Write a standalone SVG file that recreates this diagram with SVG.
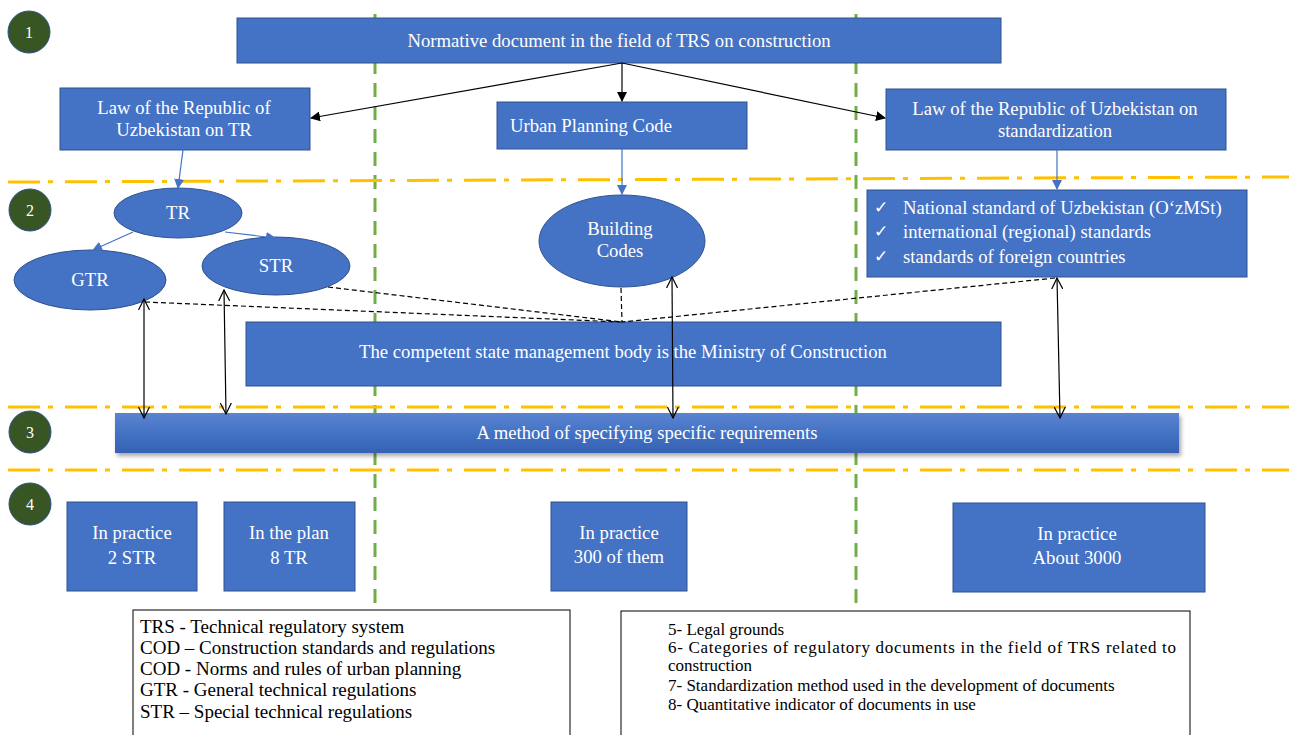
<svg xmlns="http://www.w3.org/2000/svg" width="1289" height="735" viewBox="0 0 1289 735">
<style>
.box{fill:#4472C4;stroke:#2F528F;stroke-width:1}
.t{font-family:"Liberation Serif","Times New Roman",serif;fill:#fff;font-size:18.7px}
.n{font-family:"Liberation Serif","Times New Roman",serif;fill:#fff;font-size:16px;text-anchor:middle}
.c{text-anchor:middle}
.num{fill:#375623;stroke:#2F528F;stroke-width:1}
.orange{stroke:#FFC000;stroke-width:3;stroke-dasharray:32 8 5 12;fill:none}
.green{stroke:#70AD47;stroke-width:3;stroke-dasharray:14 9;fill:none}
.blk{stroke:#000;stroke-width:1.2;fill:none}
.blu{stroke:#4472C4;stroke-width:1.2;fill:none}
.dsh{stroke:#000;stroke-width:1.2;stroke-dasharray:5 3;fill:none}
.leg{font-family:"Liberation Serif","Times New Roman",serif;fill:#000}
.ck{font-family:"DejaVu Sans",sans-serif;font-size:17px;fill:#fff}
</style>
<defs>
<marker id="ah" markerWidth="10" markerHeight="10" refX="9" refY="5" orient="auto" markerUnits="userSpaceOnUse"><path d="M0,0 L10,5 L0,10 z" fill="#000"/></marker>
<marker id="ab" markerWidth="10" markerHeight="10" refX="9" refY="5" orient="auto" markerUnits="userSpaceOnUse"><path d="M0,0 L10,5 L0,10 z" fill="#4472C4"/></marker>
<marker id="ao" markerWidth="12" markerHeight="12" refX="11" refY="6" orient="auto-start-reverse" markerUnits="userSpaceOnUse"><path d="M0,0.5 L11,6 L0,11.5" fill="none" stroke="#000" stroke-width="1.2"/></marker>
<linearGradient id="mg" x1="0" y1="0" x2="0" y2="1"><stop offset="0" stop-color="#5A84D0"/><stop offset="0.5" stop-color="#4472C4"/><stop offset="1" stop-color="#3561B3"/></linearGradient>
<filter id="sh" x="-5%" y="-30%" width="110%" height="170%"><feDropShadow dx="2" dy="3" stdDeviation="2" flood-color="#000" flood-opacity="0.35"/></filter>
</defs>
<rect width="1289" height="735" fill="#fff"/>

<g id="guides">
<line class="green" x1="375" y1="14" x2="375" y2="612"/>
<line class="green" x1="856" y1="14" x2="856" y2="612"/>
<line class="orange" x1="8" y1="182" x2="1289" y2="177"/>
<line class="orange" x1="8" y1="407" x2="1289" y2="407"/>
<line class="orange" x1="8" y1="470" x2="1289" y2="470"/>
</g>

<g id="step-markers">
<g id="m1"><circle class="num" cx="29" cy="32" r="21"/><text class="n" x="29" y="38">1</text></g>
<g id="m2"><circle class="num" cx="30" cy="210" r="21"/><text class="n" x="30" y="216">2</text></g>
<g id="m3"><circle class="num" cx="30" cy="432" r="21"/><text class="n" x="30" y="438">3</text></g>
<g id="m4"><circle class="num" cx="30" cy="504" r="21"/><text class="n" x="30" y="510">4</text></g>
</g>

<g id="n-normative"><rect class="box" x="237" y="18" width="764" height="45"/><text class="t c" x="619" y="47">Normative document in the field of TRS on construction</text></g>
<g id="n-lawtr"><rect class="box" x="60" y="88" width="250" height="62"/><text class="t c" x="184" y="114">Law of the Republic of</text><text class="t c" x="184" y="136">Uzbekistan on TR</text></g>
<g id="n-urban"><rect class="box" x="497" y="102" width="250" height="47"/><text class="t" x="510" y="132">Urban Planning Code</text></g>
<g id="n-lawstd"><rect class="box" x="886" y="89" width="340" height="61"/><text class="t c" x="1055" y="115">Law of the Republic of Uzbekistan on</text><text class="t c" x="1055" y="137">standardization</text></g>
<g id="n-standards"><rect class="box" x="867" y="190" width="380" height="87"/>
<text class="ck" x="874" y="213">✓</text><text class="t" x="903" y="214">National standard of Uzbekistan (O‘zMSt)</text>
<text class="ck" x="874" y="237">✓</text><text class="t" x="903" y="238">international (regional) standards</text>
<text class="ck" x="874" y="262">✓</text><text class="t" x="903" y="263">standards of foreign countries</text></g>

<g id="n-tr"><ellipse class="box" cx="178" cy="213" rx="64" ry="25"/><text class="t c" x="178" y="219">TR</text></g>
<g id="n-gtr"><ellipse class="box" cx="90" cy="280" rx="76" ry="30"/><text class="t c" x="90" y="286">GTR</text></g>
<g id="n-str"><ellipse class="box" cx="276" cy="266" rx="74" ry="29"/><text class="t c" x="276" y="272">STR</text></g>
<g id="n-building"><ellipse class="box" cx="622" cy="241" rx="83" ry="46"/><text class="t c" x="620" y="235">Building</text><text class="t c" x="620" y="257">Codes</text></g>

<g id="n-ministry"><rect class="box" x="246" y="322" width="755" height="64"/><text class="t c" x="623" y="358">The competent state management body is the Ministry of Construction</text></g>
<g id="n-method"><rect x="115" y="413" width="1064" height="40" fill="url(#mg)" filter="url(#sh)"/><text class="t c" x="647" y="439">A method of specifying specific requirements</text></g>

<g id="n-q1"><rect class="box" x="67" y="502" width="130" height="89"/><text class="t c" x="132" y="539">In practice</text><text class="t c" x="132" y="564">2 STR</text></g>
<g id="n-q2"><rect class="box" x="224" y="502" width="131" height="89"/><text class="t c" x="289" y="539">In the plan</text><text class="t c" x="289" y="564">8 TR</text></g>
<g id="n-q3"><rect class="box" x="551" y="502" width="136" height="89"/><text class="t c" x="619" y="539">In practice</text><text class="t c" x="619" y="563">300 of them</text></g>
<g id="n-q4"><rect class="box" x="953" y="503" width="252" height="89"/><text class="t c" x="1077" y="540">In practice</text><text class="t c" x="1077" y="564">About 3000</text></g>

<g id="legend1"><rect x="133" y="610" width="437" height="130" fill="#fff" stroke="#000" stroke-width="1"/>
<text class="leg" font-size="19" x="140" y="633">TRS - Technical regulatory system</text>
<text class="leg" font-size="19" x="140" y="654">COD – Construction standards and regulations</text>
<text class="leg" font-size="19" x="140" y="675">COD - Norms and rules of urban planning</text>
<text class="leg" font-size="19" x="140" y="696">GTR - General technical regulations</text>
<text class="leg" font-size="19" x="140" y="718">STR – Special technical regulations</text></g>
<g id="legend2"><rect x="621" y="611" width="569" height="130" fill="#fff" stroke="#000" stroke-width="1"/>
<text class="leg" font-size="17" x="668" y="635">5- Legal grounds</text>
<text class="leg" font-size="17" x="668" y="653" textLength="508" lengthAdjust="spacing">6- Categories of regulatory documents in the field of TRS related to</text>
<text class="leg" font-size="17" x="668" y="671">construction</text>
<text class="leg" font-size="17" x="668" y="691">7- Standardization method used in the development of documents</text>
<text class="leg" font-size="17" x="668" y="710">8- Quantitative indicator of documents in use</text></g>

<g id="connectors">
<line class="blk" x1="622" y1="63" x2="311" y2="118" marker-end="url(#ah)"/>
<line class="blk" x1="622" y1="63" x2="622" y2="101" marker-end="url(#ah)"/>
<line class="blk" x1="622" y1="63" x2="885" y2="118" marker-end="url(#ah)"/>
<line class="blu" x1="183" y1="150" x2="178" y2="188" marker-end="url(#ab)"/>
<line class="blu" x1="622" y1="149" x2="622" y2="194" marker-end="url(#ab)"/>
<line class="blu" x1="1057" y1="150" x2="1057" y2="189" marker-end="url(#ab)"/>
<line class="blu" x1="133" y1="232" x2="93" y2="250" marker-end="url(#ab)"/>
<line class="blu" x1="225" y1="232" x2="275" y2="238" marker-end="url(#ab)"/>
<line class="dsh" x1="145" y1="302" x2="622" y2="322"/>
<line class="dsh" x1="328" y1="287" x2="622" y2="322"/>
<line class="dsh" x1="621" y1="288" x2="622" y2="322"/>
<line class="dsh" x1="1055" y1="278" x2="622" y2="322"/>
<line class="blk" x1="144" y1="299" x2="144" y2="418" marker-start="url(#ao)" marker-end="url(#ao)"/>
<line class="blk" x1="224" y1="290" x2="226" y2="414" marker-start="url(#ao)" marker-end="url(#ao)"/>
<line class="blk" x1="672" y1="277" x2="673" y2="418" marker-start="url(#ao)" marker-end="url(#ao)"/>
<line class="blk" x1="1057" y1="278" x2="1060" y2="418" marker-start="url(#ao)" marker-end="url(#ao)"/>
</g>
</svg>
